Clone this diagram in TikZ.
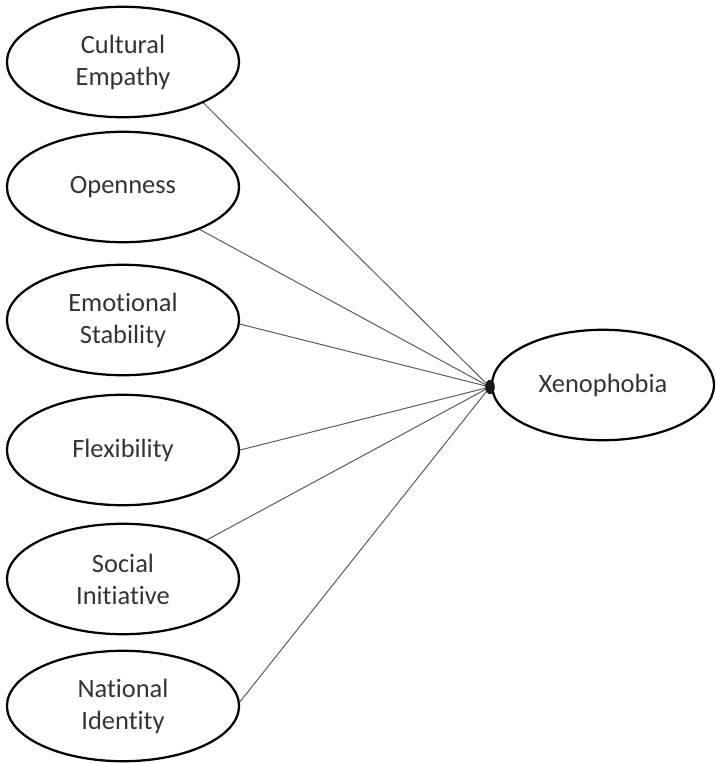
\documentclass[tikz,border=0pt]{standalone}
\usepackage{fontspec}
\setmainfont{Carlito}[Ligatures={NoCommon,NoRare,NoContextual},Contextuals=NoAlternate]
\usetikzlibrary{shapes.geometric}
\begin{document}
\begin{tikzpicture}[x=0.025cm,y=-0.025cm,
    factor/.style={draw,ellipse,line width=1.6pt,minimum width=5.8cm,minimum height=2.76cm,
      inner sep=0pt,align=center,font=\fontsize{18.8}{22.7}\selectfont,text=black!80},
    link/.style={draw=black!65,line width=0.7pt}]
  \useasboundingbox (0,0) rectangle (716,763);
  \draw
    (123,62) node[factor] (ce){Cultural\\Empathy}
    (123,187) node[factor] (op){Openness}
    (123,320) node[factor] (es){Emotional\\Stability}
    (123,450) node[factor] (fl){Flexibility}
    (123,579) node[factor] (si){Social\\Initiative}
    (123,706) node[factor] (ni){National\\Identity}
    (603,385) node[factor,minimum width=5.55cm] (xe){Xenophobia};
  \begin{scope}[link]
    \draw (ce.-27) to (490,387) coordinate (hub);
    \draw (op.-29) to (hub);
    \draw (es.-2) to (hub);
    \draw (fl.0) to (hub);
    \draw (si.25) to (hub);
    \draw (ni.2) to (hub);
  \end{scope}
  \node[ellipse,fill=black!90,inner sep=0pt,minimum width=0.24cm,minimum height=0.36cm] (dot) at (hub) {};
\end{tikzpicture}
\end{document}
